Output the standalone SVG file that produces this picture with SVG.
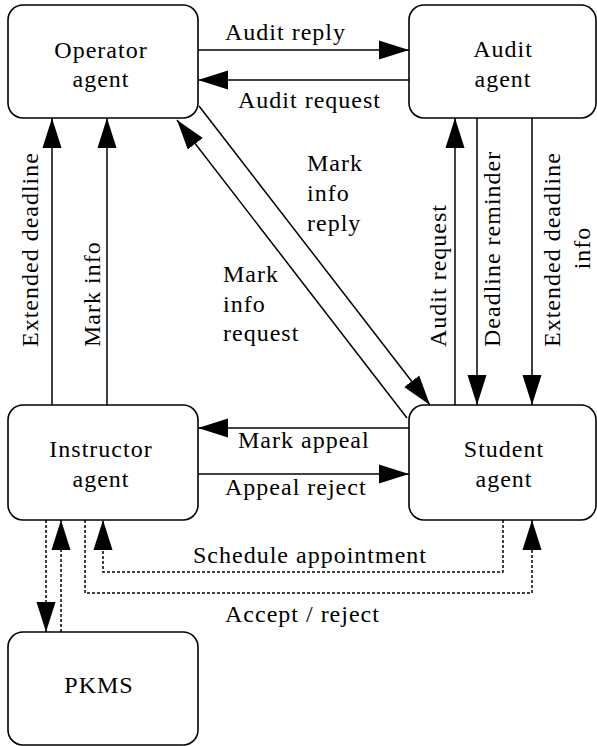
<svg xmlns="http://www.w3.org/2000/svg" width="597" height="746" viewBox="0 0 597 746">
<style>
.box{fill:#fff;stroke:#000;stroke-width:1.6}
.t{font-family:'Liberation Serif','Times New Roman','DejaVu Serif',serif;font-size:24px;letter-spacing:1px;fill:#000}
.c{text-anchor:middle}
.ln{fill:none;stroke:#000;stroke-width:1.5}
.dot{fill:none;stroke:#000;stroke-width:1.5;stroke-dasharray:3 2}
</style>
<defs>
<marker id="ah" viewBox="0 0 30 20" refX="30" refY="10" markerWidth="30" markerHeight="20" orient="auto" markerUnits="userSpaceOnUse">
<path d="M0,0.5 L30,10 L0,19.5 Z" fill="#000"/>
</marker>
</defs>
<rect width="597" height="746" fill="#fff"/>

<g id="connectors" font-family="Liberation Serif, Times New Roman, serif">
<line class="ln" x1="198" y1="50" x2="409" y2="50" marker-end="url(#ah)"/>
<line class="ln" x1="409" y1="80" x2="198" y2="80" marker-end="url(#ah)"/>
<text class="t" x="225" y="40">Audit reply</text>
<text class="t" x="238" y="108">Audit request</text>

<line class="ln" x1="52" y1="405" x2="52" y2="118" marker-end="url(#ah)"/>
<line class="ln" x1="107" y1="405" x2="107" y2="118" marker-end="url(#ah)"/>
<text class="t" transform="translate(38,347) rotate(-90)">Extended deadline</text>
<text class="t" transform="translate(100,347) rotate(-90)">Mark info</text>

<line class="ln" x1="407" y1="418" x2="177" y2="120" marker-end="url(#ah)"/>
<line class="ln" x1="199" y1="106" x2="430" y2="405" marker-end="url(#ah)"/>
<text class="t" x="307" y="171">Mark</text>
<text class="t" x="307" y="201">info</text>
<text class="t" x="307" y="231">reply</text>
<text class="t" x="223" y="282">Mark</text>
<text class="t" x="223" y="312">info</text>
<text class="t" x="223" y="341">request</text>

<line class="ln" x1="455" y1="405" x2="455" y2="118" marker-end="url(#ah)"/>
<line class="ln" x1="477" y1="118" x2="477" y2="405" marker-end="url(#ah)"/>
<line class="ln" x1="532" y1="118" x2="532" y2="405" marker-end="url(#ah)"/>
<text class="t" transform="translate(446,347) rotate(-90)">Audit request</text>
<text class="t" transform="translate(500,347) rotate(-90)">Deadline reminder</text>
<text class="t" transform="translate(560,347) rotate(-90)">Extended deadline</text>
<text class="t c" transform="translate(590,248) rotate(-90)">info</text>

<line class="ln" x1="409" y1="428" x2="198" y2="428" marker-end="url(#ah)"/>
<line class="ln" x1="198" y1="474" x2="409" y2="474" marker-end="url(#ah)"/>
<text class="t" x="238" y="448">Mark appeal</text>
<text class="t" x="225" y="495">Appeal reject</text>

<line class="dot" x1="46" y1="520" x2="46" y2="632" marker-end="url(#ah)"/>
<line class="dot" x1="61" y1="632" x2="61" y2="520" marker-end="url(#ah)"/>

<polyline class="dot" points="503,520 503,572 103,572 103,520" marker-end="url(#ah)"/>
<polyline class="dot" points="85,520 85,593 532,593 532,520" marker-end="url(#ah)"/>
<text class="t" x="193" y="563">Schedule appointment</text>
<text class="t" x="225" y="622">Accept / reject</text>
</g>

<g id="operator">
<rect class="box" x="8" y="5" width="190" height="113" rx="15" ry="15"/>
<text class="t c" x="101" y="58">Operator</text>
<text class="t c" x="101" y="87">agent</text>
</g>
<g id="audit">
<rect class="box" x="409" y="5" width="187" height="113" rx="15" ry="15"/>
<text class="t c" x="503" y="57">Audit</text>
<text class="t c" x="503" y="87">agent</text>
</g>
<g id="instructor">
<rect class="box" x="8" y="405" width="190" height="115" rx="15" ry="15"/>
<text class="t c" x="101" y="457">Instructor</text>
<text class="t c" x="101" y="487">agent</text>
</g>
<g id="student">
<rect class="box" x="409" y="405" width="187" height="115" rx="15" ry="15"/>
<text class="t c" x="504" y="457">Student</text>
<text class="t c" x="504" y="487">agent</text>
</g>
<g id="pkms">
<rect class="box" x="8" y="632" width="190" height="113" rx="15" ry="15"/>
<text class="t c" x="99" y="693">PKMS</text>
</g>
</svg>
